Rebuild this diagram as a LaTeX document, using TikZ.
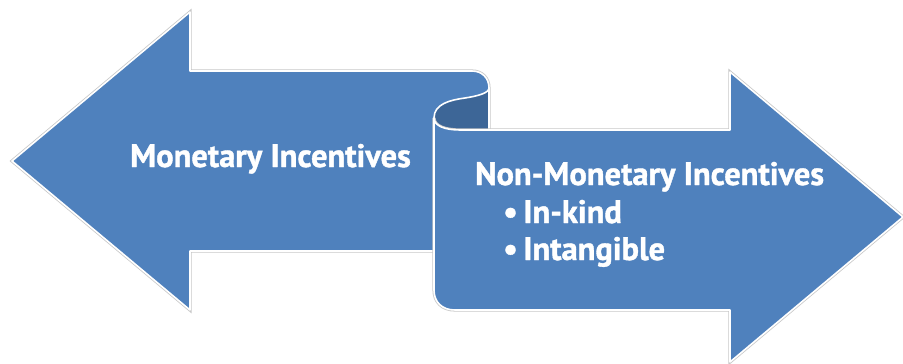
\documentclass[tikz,border=0pt]{standalone}
\usepackage{fontspec}
\setmainfont{PT Sans}[BoldFeatures={FakeBold=1.2}]
\definecolor{officeblue}{HTML}{4F81BD}
\definecolor{curldark}{HTML}{3D6697}
\definecolor{rimgray}{HTML}{C8C8C8}
\tikzset{
  panel/.style={fill=officeblue, draw=white, line width=1.6pt, line join=round,
    preaction={draw=rimgray, line width=3.2pt}},
  inner/.style={fill=curldark, draw=white, line width=1.6pt, line join=round},
  lbl/.style={text=white, font=\bfseries\fontsize{32.5}{38}\selectfont, inner sep=0pt, anchor=base west}
}
\begin{document}
\begin{tikzpicture}[x=1pt,y=-1pt]
\useasboundingbox (0,0) rectangle (903,364);
% back panel: left arrow
\path[panel] (12,161) -- (190,12) -- (190,71) -- (472,71)
  .. controls (482,71) and (489,78) .. (489,88) -- (489,251) -- (190,251) -- (190,310) -- cycle;
% inside of the curl
\path[inner] (434,118) .. controls (434,104) and (450,100) .. (465,98)
  .. controls (478,96) and (489,93) .. (489,88) -- (489,130) -- (460,130)
  .. controls (445,130) and (434,126) .. (434,118) -- cycle;
% front panel: right arrow
\path[panel] (434,118) .. controls (434,126) and (445,130) .. (460,130) -- (730,130)
  -- (730,72) -- (903,217) -- (730,362) -- (730,310) -- (455,310)
  .. controls (442,310) and (434,302) .. (434,290) -- cycle;
\node[lbl] (mon) at (130,167) {Monetary Incentives};
\node[lbl] (nonmon) at (475,185) {Non-Monetary Incentives};
\node[lbl] (kind) at (503,223) {•\,In-kind};
\node[lbl] (intang) at (503,260) {•\,Intangible};
\end{tikzpicture}
\end{document}
